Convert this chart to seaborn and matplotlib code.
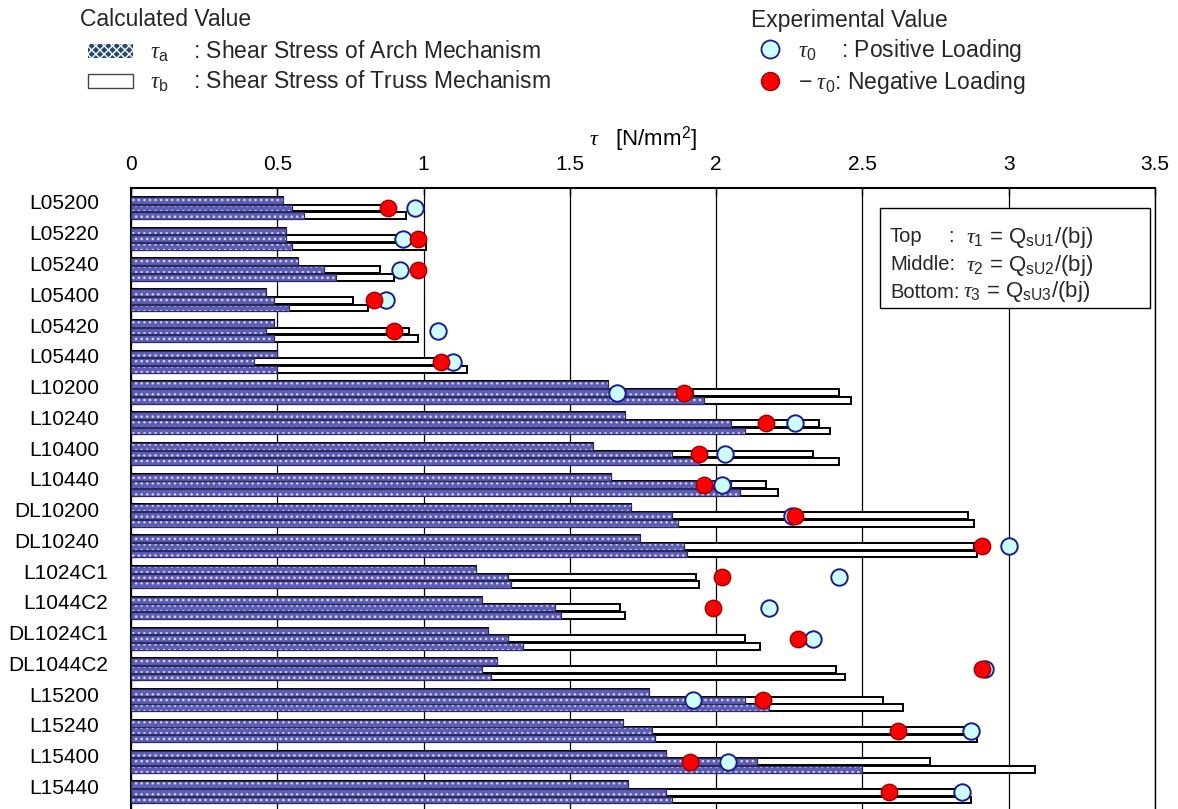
import numpy as np
import pandas as pd
import matplotlib
matplotlib.use("Agg")
import matplotlib.pyplot as plt
import seaborn as sns
from matplotlib.patches import Patch, Rectangle
from matplotlib.lines import Line2D
from matplotlib.transforms import ScaledTranslation

# ---------------- data ----------------
specimens = ["L05200", "L05220", "L05240", "L05400", "L05420", "L05440",
             "L10200", "L10240", "L10400", "L10440", "DL10200", "DL10240",
             "L1024C1", "L1044C2", "DL1024C1", "DL1044C2",
             "L15200", "L15240", "L15400", "L15440"]

# Top bar (tau_1): arch mechanism only
arch_top = [0.52, 0.53, 0.57, 0.46, 0.49, 0.50, 1.63, 1.69, 1.58, 1.64, 1.71, 1.74,
            1.18, 1.20, 1.22, 1.25, 1.77, 1.68, 1.83, 1.70]
# Middle bar (tau_2)
arch_mid = [0.55, 0.53, 0.66, 0.49, 0.46, 0.42, 1.92, 2.05, 1.85, 2.05, 1.85, 1.89,
            1.29, 1.45, 1.29, 1.20, 2.10, 1.78, 2.14, 1.83]
total_mid = [0.86, 0.92, 0.85, 0.76, 0.95, 1.04, 2.42, 2.35, 2.33, 2.17, 2.86, 2.88,
             1.93, 1.67, 2.10, 2.41, 2.57, 2.86, 2.73, 2.85]
# Bottom bar (tau_3)
arch_bot = [0.59, 0.55, 0.70, 0.54, 0.49, 0.50, 1.96, 2.10, 1.94, 2.08, 1.87, 1.90,
            1.30, 1.47, 1.34, 1.23, 2.18, 1.79, 2.50, 1.85]
total_bot = [0.94, 1.01, 0.90, 0.81, 0.98, 1.15, 2.46, 2.39, 2.42, 2.21, 2.88, 2.89,
             1.94, 1.69, 2.15, 2.44, 2.64, 2.89, 3.09, 2.87]
# Experimental values
tau_pos = [0.97, 0.93, 0.92, 0.87, 1.05, 1.10, 1.66, 2.27, 2.03, 2.02, 2.26, 3.00,
           2.42, 2.18, 2.33, 2.92, 1.92, 2.87, 2.04, 2.84]
tau_neg = [0.88, 0.98, 0.98, 0.83, 0.90, 1.06, 1.89, 2.17, 1.94, 1.96, 2.27, 2.91,
           2.02, 1.99, 2.28, 2.91, 2.16, 2.62, 1.91, 2.59]

levels = ["Top", "Middle", "Bottom"]
xticks = [0, 0.5, 1, 1.5, 2, 2.5, 3, 3.5]
xtick_labels = ["0", "0.5", "1", "1.5", "2", "2.5", "3", "3.5"]

rows = []
for i, s in enumerate(specimens):
    arches = (arch_top[i], arch_mid[i], arch_bot[i])
    totals = (arch_top[i], total_mid[i], total_bot[i])
    for lev, a, t in zip(levels, arches, totals):
        rows.append(dict(specimen=s, level=lev, arch=a, total=t))
df = pd.DataFrame(rows)

# ---------------- style ----------------
sns.set_theme(style="white")
plt.rcParams["font.family"] = ["Liberation Sans", "DejaVu Sans"]
plt.rcParams["mathtext.fontset"] = "custom"
plt.rcParams["mathtext.rm"] = "Liberation Sans"
plt.rcParams["mathtext.it"] = "Liberation Serif:italic"
plt.rcParams["mathtext.bf"] = "Liberation Sans:bold"
plt.rcParams["hatch.linewidth"] = 1.0

ARCH = "#5E5EB8"
FS = 15
LFS = 16.5

fig = plt.figure(figsize=(11.78, 8.09), dpi=100)
ax = fig.add_axes([131 / 1178, 0.0, 1024 / 1178, 621 / 809])

common = dict(data=df, y="specimen", hue="level", order=specimens, hue_order=levels,
              orient="h", width=0.75, gap=0.12, errorbar=None, legend=False, ax=ax)

# truss (white) = total bars underneath
sns.barplot(x="total", palette={l: "white" for l in levels}, saturation=1,
            edgecolor="black", linewidth=1.4, zorder=2, **common)
# arch (hatched) on top
sns.barplot(x="arch", palette={l: ARCH for l in levels}, saturation=1,
            edgecolor="#D8D8F4", linewidth=0, hatch="...", zorder=3, **common)
sns.barplot(x="arch", palette={l: "#2A2A5C" for l in levels}, saturation=1,
            fill=False, linewidth=0.9, zorder=3.5, **common)

ypos = np.arange(len(specimens))
sns.scatterplot(x=tau_pos, y=ypos, s=140, color="#CCFFFF", edgecolor="#1A1A99",
                linewidth=1.4, zorder=5, ax=ax, legend=False)
sns.scatterplot(x=tau_neg, y=ypos, s=140, color="#FF0000", edgecolor="#A00000",
                linewidth=1.0, zorder=5.5, ax=ax, legend=False)

# ---------------- axes ----------------
ax.set_xlim(0, 3.5)
ax.set_ylim(19.54, -0.65)
ax.xaxis.set_ticks_position("top")
ax.xaxis.set_label_position("top")
ax.set_xticks(xticks)
ax.set_xticklabels(xtick_labels)
ax.tick_params(axis="x", which="major", direction="in", length=5, width=1,
               color="black", pad=10, labelsize=FS, labelcolor="black")
ax.set_xlabel(r"$\tau$   [N/mm$^2$]", fontsize=16, labelpad=7, color="black")
ax.set_ylabel("")
ax.grid(axis="x", color="black", linewidth=0.9)
ax.grid(axis="y", visible=False)
ax.set_axisbelow(True)

ax.set_yticks(ypos)
ax.set_yticklabels(specimens)
ax.tick_params(axis="y", which="major", length=0, pad=23, labelsize=FS, labelcolor="black")
ax.set_yticks(np.concatenate([ypos - 0.36, ypos + 0.36]), minor=True)
ax.tick_params(axis="y", which="minor", direction="in", length=6, width=1.5,
               color="black", left=True)
for lab in ax.get_yticklabels():
    dx = 9 if "C" in lab.get_text() else 0
    lab.set_transform(lab.get_transform() +
                      ScaledTranslation(dx / 100, 6 / 100, fig.dpi_scale_trans))

for side in ["left", "top"]:
    ax.spines[side].set_color("black")
    ax.spines[side].set_linewidth(1.5)
    ax.spines[side].set_visible(True)
ax.spines["right"].set_color("black")
ax.spines["right"].set_linewidth(1.0)
ax.spines["bottom"].set_visible(False)

# ---------------- formula box ----------------
ax.add_patch(Rectangle((0.7314, 0.8068), 0.2636, 0.161, transform=ax.transAxes,
                       facecolor="white", edgecolor="black", linewidth=1.0, zorder=6))
bx = (890 - 131) / 1024
rows_y = [1 - (237 - 188) / 621, 1 - (265 - 188) / 621, 1 - (292 - 188) / 621]
words = ["Top", "Middle:", "Bottom:"]
fx = [(966 - 131) / 1024, (966 - 131) / 1024, (963 - 131) / 1024]
forms = [r"$\tau_{\rm 1}$ = Q$_{\rm sU1}$/(bj)",
         r"$\tau_{\rm 2}$ = Q$_{\rm sU2}$/(bj)",
         r"$\tau_{\rm 3}$ = Q$_{\rm sU3}$/(bj)"]
for w, yy, xx, f in zip(words, rows_y, fx, forms):
    ax.text(bx, yy, w, transform=ax.transAxes, fontsize=14.5, va="center", ha="left", zorder=7)
    ax.text(xx, yy, f, transform=ax.transAxes, fontsize=16, va="center", ha="left", zorder=7)
ax.text((948 - 131) / 1024, rows_y[0], ":", transform=ax.transAxes, fontsize=14.5,
        va="center", ha="left", zorder=7)

# ---------------- legends ----------------
fig.text(80 / 1178, 1 - 20 / 809, "Calculated Value", fontsize=LFS, va="center", ha="left")
fig.text(751 / 1178, 1 - 20 / 809, "Experimental Value", fontsize=LFS, va="center", ha="left")

h_arch = Patch(facecolor="#22497A", edgecolor="white", hatch="xxxx", linewidth=0)
h_truss = Patch(facecolor="white", edgecolor="#444444", linewidth=1.0)
fig.legend(handles=[h_arch, h_truss],
           labels=[r"$\tau_{\rm a}$    : Shear Stress of Arch Mechanism",
                   r"$\tau_{\rm b}$    : Shear Stress of Truss Mechanism"],
           loc="center left", bbox_to_anchor=(88 / 1178, 1 - 66.5 / 809),
           frameon=False, fontsize=LFS, handlelength=1.95, handleheight=0.55,
           handletextpad=0.75, labelspacing=0.2, borderpad=0, borderaxespad=0)

h_pos = Line2D([], [], marker="o", linestyle="none", markersize=13,
               markerfacecolor="#CCFFFF", markeredgecolor="#1A1A99", markeredgewidth=1.3)
h_neg = Line2D([], [], marker="o", linestyle="none", markersize=13,
               markerfacecolor="#FF0000", markeredgecolor="#A00000", markeredgewidth=1.0)
fig.legend(handles=[h_pos, h_neg],
           labels=[r"$\tau_{\rm 0}$    : Positive Loading",
                   r"$-\ \tau_{\rm 0}$: Negative Loading"],
           loc="center left", bbox_to_anchor=(751 / 1178, 1 - 66.5 / 809),
           frameon=False, fontsize=LFS, handlelength=1.7, handletextpad=0.35,
           labelspacing=0.2, borderpad=0, borderaxespad=0)

fig.savefig("out.png", dpi=100)
